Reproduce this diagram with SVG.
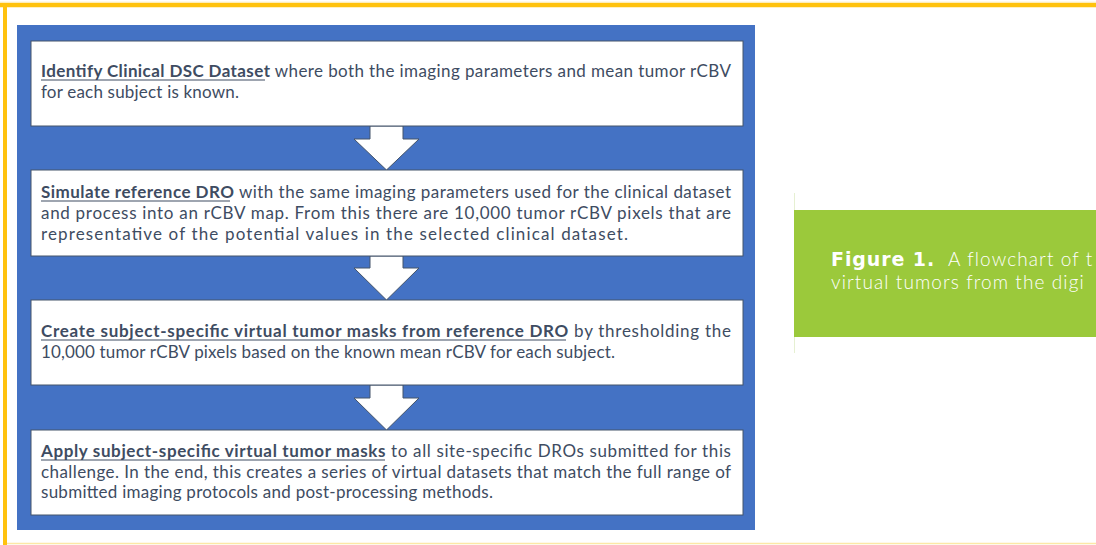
<svg xmlns="http://www.w3.org/2000/svg" width="1096" height="545" viewBox="0 0 1096 545">
<defs>
<style>
.box{fill:#ffffff;stroke:#44546A;stroke-width:1}
.arr{fill:#ffffff;stroke:#44546A;stroke-width:1;stroke-linejoin:miter}
.t{font-family:Lato,"Liberation Sans",sans-serif;font-size:17px;fill:#3E4C62}
.b{font-weight:700}
.ul{stroke:#3E4C62;stroke-width:1.2}
.cap{font-family:Lato,"Open Sans",sans-serif;font-size:19px;fill:#ffffff;font-weight:300;letter-spacing:1.1px}
.fig{font-family:"DejaVu Sans",sans-serif;font-weight:700;letter-spacing:0.9px}
</style>
</defs>
<rect x="0" y="0" width="1096" height="545" fill="#ffffff"/>
<g id="frame">
<line x1="0" y1="5" x2="1096" y2="5" stroke="#FFC20E" stroke-width="4.5"/>
<line x1="0" y1="2.2" x2="1096" y2="2.2" stroke="#FDEBB5" stroke-width="1"/>
<line x1="5" y1="3" x2="5" y2="545" stroke="#FFC20E" stroke-width="4"/>
<line x1="7" y1="543.5" x2="1096" y2="543.5" stroke="#FCE8A6" stroke-width="1.5"/>
</g>
<rect id="panel" x="17" y="25" width="738" height="505" fill="#4472C4"/>
<g id="connectors">
<polygon class="arr" points="370,126 403,126 403,139 419,139 386.5,170 354,139 370,139"/>
<polygon class="arr" points="370,256 403,256 403,268 419,268 386.5,300 354,268 370,268"/>
<polygon class="arr" points="370,385 403,385 403,398 419,398 386.5,430 354,398 370,398"/>
</g>
<g id="step1">
<rect class="box" x="31" y="41" width="712" height="85"/>
<text class="t" x="41" y="77" textLength="690" lengthAdjust="spacing"><tspan class="b">Identify Clinical DSC Dataset</tspan> where both the imaging parameters and mean tumor rCBV</text>
<line class="ul" x1="41" y1="80" x2="265" y2="80"/>
<text class="t" x="41" y="98" textLength="198" lengthAdjust="spacing">for each subject is known.</text>
</g>
<g id="step2">
<rect class="box" x="31" y="170" width="712" height="86"/>
<text class="t" x="41" y="198" textLength="690" lengthAdjust="spacing"><tspan class="b">Simulate reference DRO</tspan> with the same imaging parameters used for the clinical dataset</text>
<line class="ul" x1="41" y1="201" x2="230" y2="201"/>
<text class="t" x="41" y="219" textLength="690" lengthAdjust="spacing">and process into an rCBV map. From this there are 10,000 tumor rCBV pixels that are</text>
<text class="t" x="41" y="240" textLength="587" lengthAdjust="spacing">representative of the potential values in the selected clinical dataset.</text>
</g>
<g id="step3">
<rect class="box" x="31" y="300" width="712" height="85"/>
<text class="t" x="41" y="337" textLength="690" lengthAdjust="spacing"><tspan class="b">Create subject-specific virtual tumor masks from reference DRO</tspan> by thresholding the</text>
<line class="ul" x1="41" y1="340" x2="566" y2="340"/>
<text class="t" x="41" y="358" textLength="574" lengthAdjust="spacing">10,000 tumor rCBV pixels based on the known mean rCBV for each subject.</text>
</g>
<g id="step4">
<rect class="box" x="31" y="430" width="712" height="85"/>
<text class="t" x="41" y="457" textLength="690" lengthAdjust="spacing"><tspan class="b">Apply subject-specific virtual tumor masks</tspan> to all site-specific DROs submitted for this</text>
<line class="ul" x1="41" y1="460" x2="385" y2="460"/>
<text class="t" x="41" y="478" textLength="690" lengthAdjust="spacing">challenge. In the end, this creates a series of virtual datasets that match the full range of</text>
<text class="t" x="41" y="498" textLength="452" lengthAdjust="spacing">submitted imaging protocols and post-processing methods.</text>
</g>
<g id="caption">
<line x1="794.5" y1="193" x2="794.5" y2="353" stroke="#E6F0D2" stroke-width="1"/>
<rect x="794" y="210" width="302" height="127" fill="#9BC93B"/>
<text class="cap" x="831" y="265.5"><tspan class="fig">Figure 1.</tspan><tspan x="948">A flowchart of t</tspan></text>
<text class="cap" x="831" y="288.5">virtual tumors from the digi</text>
</g>
</svg>
